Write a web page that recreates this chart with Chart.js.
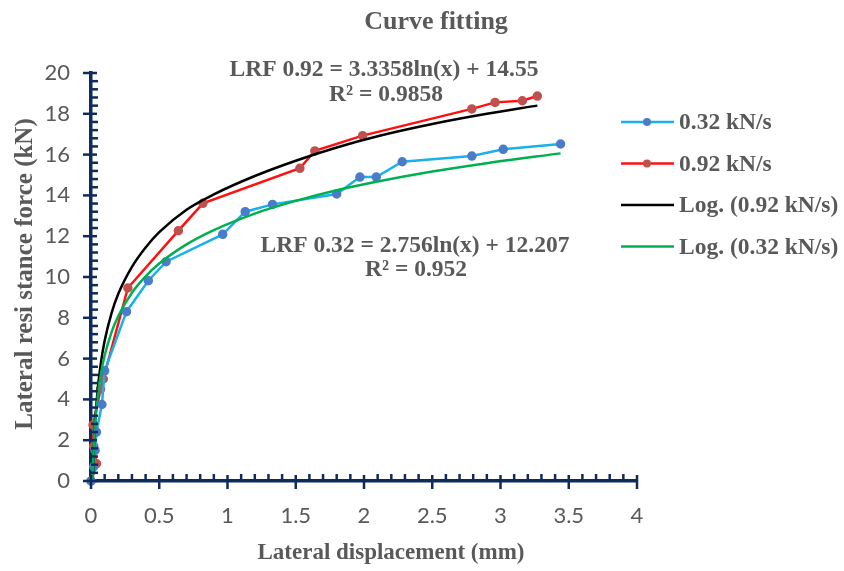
<!DOCTYPE html>
<html>
<head>
<meta charset="utf-8">
<script src="https://cdn.jsdelivr.net/npm/chart.js@4.4.0/dist/chart.umd.min.js"></script>
<style>
html, body { margin: 0; padding: 0; background: #fff; }
</style>
</head>
<body>
<canvas id="myChart" width="844" height="571"></canvas>
<script>
// valores
var seriesNames = ['0.32 kN/s', '0.92 kN/s', 'Log. (0.92 kN/s)', 'Log. (0.32 kN/s)'];

var x032 = [0, 0.02, 0.03, 0.04, 0.08, 0.10, 0.26, 0.42, 0.55, 0.965, 1.13, 1.33, 1.80, 1.97, 2.09, 2.28, 2.79, 3.02, 3.44];
var y032 = [0, 0.7, 1.5, 2.4, 3.75, 5.4, 8.3, 9.82, 10.75, 12.09, 13.2, 13.56, 14.07, 14.9, 14.9, 15.65, 15.93, 16.26, 16.52];

var x092 = [0, 0.04, 0.02, 0.015, 0.07, 0.09, 0.27, 0.64, 0.82, 1.53, 1.64, 1.99, 2.79, 2.96, 3.16, 3.27];
var y092 = [0, 0.85, 1.7, 2.75, 4.5, 5.0, 9.46, 12.27, 13.61, 15.33, 16.18, 16.93, 18.24, 18.56, 18.64, 18.87];

var xLog092 = [0.013, 0.02, 0.03, 0.05, 0.075, 0.1, 0.15, 0.2, 0.3, 0.4, 0.5, 0.7, 0.9, 1.2, 1.5, 1.8, 2.1, 2.5, 2.9, 3.27];
var yLog092 = [0.05, 1.5, 2.85, 4.55, 5.9, 6.87, 8.22, 9.18, 10.5, 11.45, 12.2, 13.3, 14.05, 14.95, 15.7, 16.35, 16.9, 17.5, 18.0, 18.4];

var xLog032 = [0.011, 0.02, 0.03, 0.05, 0.075, 0.1, 0.15, 0.2, 0.3, 0.4, 0.5, 0.7, 0.9, 1.2, 1.5, 1.8, 2.1, 2.5, 2.9, 3.44];
var yLog032 = [0, 1.65, 2.78, 4.21, 5.35, 6.15, 7.29, 8.09, 9.23, 10.03, 10.66, 11.6, 12.3, 13.11, 13.73, 14.25, 14.68, 15.17, 15.58, 16.06];

var xTicks = [0, 0.5, 1, 1.5, 2, 2.5, 3, 3.5, 4];
var yTicks = [0, 2, 4, 6, 8, 10, 12, 14, 16, 18, 20];

var axisColor = '#0f2b5b';
var textGray = '#595959';

function toPoints(xs, ys){
    return xs.map(function(v, i){ return {x: v, y: ys[i]}; });
}

// titulo, leyenda, ecuaciones y marcas de los ejes
var decoPlugin = {
    id: 'deco',
    afterDraw: function(chart){
        var ctx = chart.ctx;
        var xs = chart.scales.x, ys = chart.scales.y;
        ctx.save();

        // marcas del eje x
        ctx.strokeStyle = axisColor;
        ctx.lineWidth = 2.5;
        var y0 = ys.getPixelForValue(0);
        for (var i = 0; i <= 40; i++) {
            var px = xs.getPixelForValue(i / 10);
            ctx.beginPath();
            if (i % 5 === 0) { ctx.moveTo(px, y0 - 6); ctx.lineTo(px, y0 + 8); }
            else { ctx.moveTo(px, y0 - 7); ctx.lineTo(px, y0); }
            ctx.stroke();
        }
        // marcas del eje y
        var x0 = xs.getPixelForValue(0);
        for (var j = 0; j <= 50; j++) {
            var py = ys.getPixelForValue(j * 0.4);
            ctx.beginPath();
            if (j % 5 === 0) { ctx.moveTo(x0 - 8, py); ctx.lineTo(x0 + 6, py); }
            else { ctx.moveTo(x0, py); ctx.lineTo(x0 + 7, py); }
            ctx.stroke();
        }

        // titulo
        ctx.fillStyle = textGray;
        ctx.textAlign = 'center';
        ctx.textBaseline = 'middle';
        ctx.font = 'bold 26px "Liberation Serif"';
        ctx.fillText('Curve fitting', 436, 22);

        // titulos de los ejes
        ctx.font = 'bold 23px "Liberation Serif"';
        ctx.fillText('Lateral displacement (mm)', 391, 553);
        ctx.save();
        ctx.translate(26, 274);
        ctx.rotate(-Math.PI / 2);
        ctx.font = 'bold 25px "Liberation Serif"';
        ctx.fillText('Lateral resi stance force (kN)', 0, 0);
        ctx.restore();

        // ecuaciones
        ctx.font = 'bold 23.5px "Liberation Serif"';
        ctx.fillText('LRF 0.92 = 3.3358ln(x) + 14.55', 384, 70);
        ctx.fillText('R\u00b2 = 0.9858', 386, 95);
        ctx.fillText('LRF 0.32 = 2.756ln(x) + 12.207', 415, 246);
        ctx.fillText('R\u00b2 = 0.952', 416, 270);

        // leyenda
        ctx.textAlign = 'left';
        ctx.font = 'bold 23.5px "Liberation Serif"';
        chart.data.datasets.forEach(function(ds, k){
            var ly = 122 + k * 41.5;
            ctx.strokeStyle = ds.borderColor;
            ctx.lineWidth = 2.5;
            ctx.beginPath();
            ctx.moveTo(621, ly);
            ctx.lineTo(674, ly);
            ctx.stroke();
            if (ds.pointRadius > 0) {
                ctx.fillStyle = ds.pointBackgroundColor;
                ctx.beginPath();
                ctx.arc(647, ly, 4, 0, Math.PI * 2);
                ctx.fill();
            }
            ctx.fillStyle = textGray;
            ctx.fillText(ds.label, 679, ly + 1);
        });
        ctx.restore();
    }
};

let myChart = document.getElementById('myChart').getContext('2d');

let lineChart = new Chart(myChart, {
    type: 'scatter',
    data: {
        datasets: [{
            label: seriesNames[0],
            data: toPoints(x032, y032),
            showLine: true,
            borderColor: '#1ab0ea',
            borderWidth: 2.5,
            pointRadius: 3.5,
            pointBackgroundColor: '#4a7cc9',
            pointBorderColor: '#4a7cc9',
            order: 2
        }, {
            label: seriesNames[1],
            data: toPoints(x092, y092),
            showLine: true,
            borderColor: '#ff1010',
            borderWidth: 2.5,
            pointRadius: 3.5,
            pointBackgroundColor: '#c0504d',
            pointBorderColor: '#c0504d',
            order: 3
        }, {
            label: seriesNames[2],
            data: toPoints(xLog092, yLog092),
            showLine: true,
            borderColor: '#000000',
            borderWidth: 2.5,
            pointRadius: 0,
            cubicInterpolationMode: 'monotone',
            order: 1
        }, {
            label: seriesNames[3],
            data: toPoints(xLog032, yLog032),
            showLine: true,
            borderColor: '#00b050',
            borderWidth: 2.5,
            pointRadius: 0,
            cubicInterpolationMode: 'monotone',
            order: 0
        }]
    },
    options: {
        responsive: false,
        animation: false,
        clip: false,
        layout: {
            padding: { left: 0, right: 207, top: 73, bottom: 0 }
        },
        plugins: {
            legend: { display: false },
            title: { display: false },
            tooltip: { enabled: false }
        },
        scales: {
            x: {
                type: 'linear',
                min: 0,
                max: 4,
                afterBuildTicks: function(scale){ scale.ticks = xTicks.map(function(v){ return {value: v}; }); },
                afterFit: function(scale){ scale.height = 90; },
                grid: { display: false, drawTicks: false },
                border: { display: true, color: axisColor, width: 3.5 },
                ticks: {
                    padding: 22,
                    color: textGray,
                    font: { family: 'Lato', size: 22 },
                    callback: function(v){ return String(v); }
                }
            },
            y: {
                type: 'linear',
                min: 0,
                max: 20,
                afterBuildTicks: function(scale){ scale.ticks = yTicks.map(function(v){ return {value: v}; }); },
                afterFit: function(scale){ scale.width = 91; },
                grid: { display: false, drawTicks: false },
                border: { display: true, color: axisColor, width: 3.5 },
                ticks: {
                    padding: 21,
                    color: textGray,
                    font: { family: 'Lato', size: 22 },
                    callback: function(v){ return String(v); }
                }
            }
        }
    },
    plugins: [decoPlugin]
});
</script>
</body>
</html>
